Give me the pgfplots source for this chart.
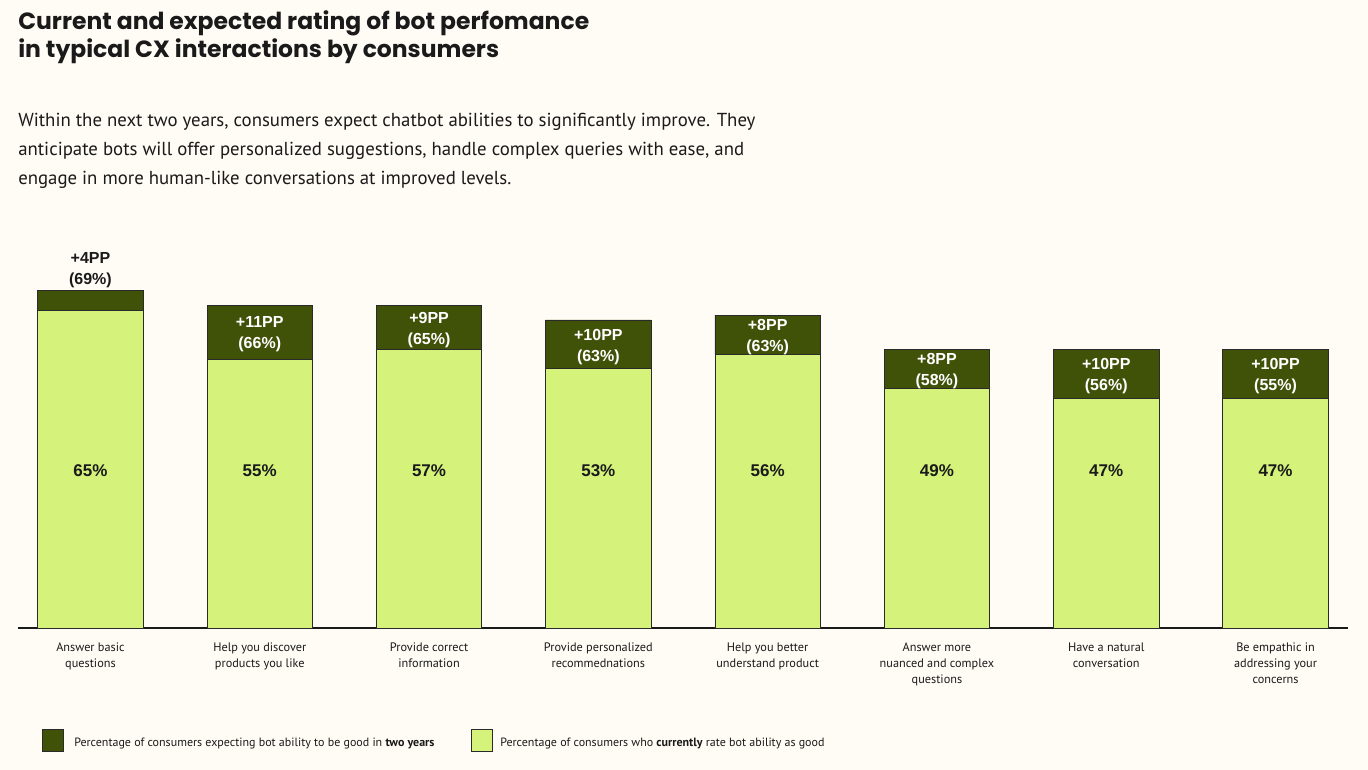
\documentclass[border=0pt]{standalone}
\usepackage{pgfplots}
\pgfplotsset{compat=1.18}
\usepackage{fontspec}
\setmainfont{PT Sans}
\newfontfamily\titlefont{Liberation Sans}
\newfontfamily\headfont{Poppins}
\definecolor{bg}{HTML}{FFFCF5}
\definecolor{darkg}{HTML}{3F5208}
\definecolor{lightg}{HTML}{D5F37A}
\definecolor{txt}{HTML}{1A1A1A}
\definecolor{edge}{HTML}{2A2A2A}
\newcommand{\fs}[2]{\fontsize{#1pt}{#2pt}\selectfont}
\tikzset{cur/.style={font=\titlefont\bfseries\fs{12.75}{15}, text=txt},
  ppw/.style={align=center, font=\titlefont\bfseries\fs{12}{15.75}, text=white, yshift=-1.8pt}}
\begin{document}
\begin{tikzpicture}
\fill[bg] (0,0) rectangle (1026pt,-577.5pt);
% title
\node[anchor=base west, inner sep=0, text=txt, font=\headfont\bfseries\fs{17.6}{21}] at (13.5pt,-22.1pt) {Current and expected rating of bot perfomance};
\node[anchor=base west, inner sep=0, text=txt, font=\headfont\bfseries\fs{17.6}{21}] at (13.5pt,-43.1pt) {in typical CX interactions by consumers};
% subtitle
\node[anchor=base west, inner sep=0, text=txt, font=\fs{14.1}{16}] at (13.5pt,-95pt) {Within the next two years, consumers expect chatbot abilities to significantly improve. They};
\node[anchor=base west, inner sep=0, text=txt, font=\fs{14.1}{16}] at (13.5pt,-116.8pt) {anticipate bots will offer personalized suggestions, handle complex queries with ease, and};
\node[anchor=base west, inner sep=0, text=txt, font=\fs{14.1}{16}] at (13.5pt,-138.5pt) {engage in more human-like conversations at improved levels.};
\begin{axis}[
  at={(13.5pt,-471pt)}, anchor=south west,
  scale only axis, width=997.5pt, height=275.06pt,
  xmin=-0.428, xmax=7.428, ymin=0, ymax=75,
  ybar stacked, bar width=79.1pt,
  axis x line*=bottom, axis y line=none,
  x axis line style={draw=txt, line width=1pt},
  xtick={0,...,7}, major tick length=0pt,
  xticklabels={{Answer basic\\questions},{Help you discover\\products you like},{Provide correct\\information},{Provide personalized\\recommednations},{Help you better\\understand product},{Answer more\\nuanced and complex\\questions},{Have a natural\\conversation},{Be empathic in\\addressing your\\concerns}},
  xticklabel style={align=center, font=\fs{9.2}{12}, text=txt, anchor=north, yshift=-7.5pt},
  clip=false,
]
\addplot[fill=lightg, draw=edge, line width=0.6pt] coordinates {(0,65) (1,55) (2,57) (3,53) (4,56) (5,49) (6,47) (7,47)};
\addplot[fill=darkg, draw=edge, line width=0.6pt] coordinates {(0,4) (1,11) (2,9) (3,10) (4,8) (5,8) (6,10) (7,10)};
% label anchors
\coordinate (c0) at (axis cs:0,32.1);
\coordinate (c1) at (axis cs:1,32.1);
\coordinate (c2) at (axis cs:2,32.1);
\coordinate (c3) at (axis cs:3,32.1);
\coordinate (c4) at (axis cs:4,32.1);
\coordinate (c5) at (axis cs:5,32.1);
\coordinate (c6) at (axis cs:6,32.1);
\coordinate (c7) at (axis cs:7,32.1);
\coordinate (p0) at (axis cs:0,73.1);
\coordinate (p1) at (axis cs:1,60.5);
\coordinate (p2) at (axis cs:2,61.5);
\coordinate (p3) at (axis cs:3,58);
\coordinate (p4) at (axis cs:4,60);
\coordinate (p5) at (axis cs:5,53);
\coordinate (p6) at (axis cs:6,52);
\coordinate (p7) at (axis cs:7,52);
\end{axis}
\node[cur] at (c0) {65\%};
\node[cur] at (c1) {55\%};
\node[cur] at (c2) {57\%};
\node[cur] at (c3) {53\%};
\node[cur] at (c4) {56\%};
\node[cur] at (c5) {49\%};
\node[cur] at (c6) {47\%};
\node[cur] at (c7) {47\%};
\node[ppw, text=txt, yshift=1.8pt] at (p0) {+4PP\\(69\%)};
\node[ppw] at (p1) {+11PP\\(66\%)};
\node[ppw] at (p2) {+9PP\\(65\%)};
\node[ppw] at (p3) {+10PP\\(63\%)};
\node[ppw] at (p4) {+8PP\\(63\%)};
\node[ppw] at (p5) {+8PP\\(58\%)};
\node[ppw] at (p6) {+10PP\\(56\%)};
\node[ppw] at (p7) {+10PP\\(55\%)};
% legend
\filldraw[fill=darkg, draw=edge, line width=0.6pt] (31.5pt,-546.75pt) rectangle (47.25pt,-563.25pt);
\node[anchor=base west, inner sep=0, text=txt, font=\fs{9}{10}] at (55.5pt,-559.5pt) {Percentage of consumers expecting bot ability to be good in \textbf{two years}};
\filldraw[fill=lightg, draw=edge, line width=0.6pt] (353.25pt,-546.75pt) rectangle (369pt,-563.25pt);
\node[anchor=base west, inner sep=0, text=txt, font=\fs{9}{10}] at (375pt,-559.5pt) {Percentage of consumers who \textbf{currently} rate bot ability as good};
\pgfresetboundingbox
\path[use as bounding box] (0,0) rectangle (1026pt,-577.5pt);
\end{tikzpicture}
\end{document}
